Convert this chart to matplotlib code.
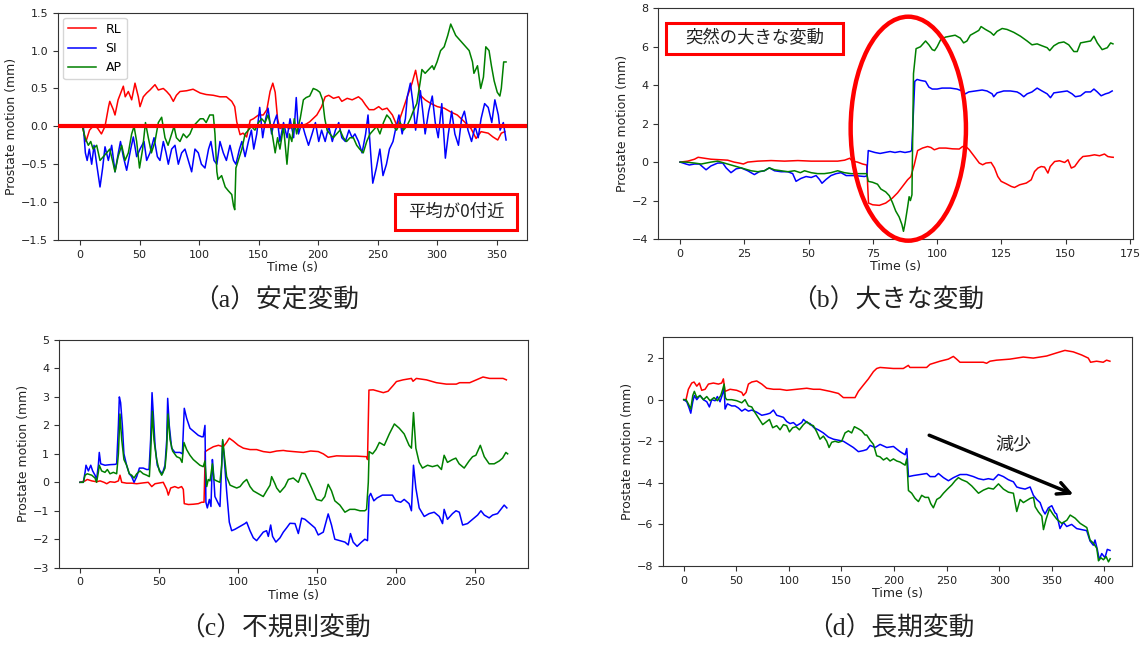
import matplotlib
matplotlib.use("Agg")
import matplotlib.pyplot as plt
from matplotlib.patches import Rectangle, Ellipse

plt.rcParams['font.family'] = ['DejaVu Sans', 'Noto Sans CJK JP']

# ---------------- (a) stable ----------------
a_t_rl = [2, 5, 8, 12, 15, 18, 21, 24, 25, 28, 29.4, 32, 36.4, 38, 40.6, 43.4, 46.2, 49, 50.4, 53.2, 56, 58.8, 63, 65.8, 70, 72.8, 75.6, 78.4, 81, 84, 89.6, 95, 101, 106, 112, 117.6, 123, 127.5, 130, 131.7, 134.5, 137, 140, 143, 145.7, 150, 154, 157, 159.7, 162, 164, 166, 168, 172, 176, 180, 185, 190, 193, 199, 203, 206, 209, 213, 217.4, 220, 224.5, 228.7, 234, 237, 240, 243, 247, 251, 254, 258, 262.5, 266.5, 270.7, 275, 279, 282, 284, 286, 290, 295, 300.3, 306, 311.5, 317, 323, 328.6, 332.8, 337, 343, 347, 351, 354, 357]
a_rl = [0.0, -0.2, -0.05, 0.02, -0.03, -0.1, 0.0, 0.26, 0.33, 0.22, 0.15, 0.35, 0.53, 0.39, 0.46, 0.35, 0.57, 0.39, 0.26, 0.39, 0.44, 0.48, 0.55, 0.48, 0.5, 0.46, 0.41, 0.33, 0.41, 0.46, 0.47, 0.49, 0.44, 0.42, 0.41, 0.39, 0.39, 0.33, 0.26, 0.06, -0.11, -0.09, -0.14, 0.08, 0.1, 0.15, 0.15, 0.22, 0.46, 0.57, 0.45, 0.1, -0.03, 0.0, -0.03, 0.02, 0.0, 0.03, 0.06, 0.15, 0.26, 0.39, 0.41, 0.37, 0.39, 0.33, 0.37, 0.35, 0.39, 0.35, 0.28, 0.22, 0.22, 0.26, 0.22, 0.24, 0.15, 0.0, 0.19, 0.39, 0.57, 0.74, 0.57, 0.41, 0.35, 0.3, 0.26, 0.24, 0.19, 0.15, 0.06, -0.03, -0.16, -0.07, -0.09, -0.14, -0.18, -0.09, -0.07]

a_t_si = [2.8, 4.5, 6, 7.8, 9.8, 11.8, 14, 16.8, 19, 21, 23.8, 26.6, 29.4, 32.2, 34, 36.4, 39.2, 42.6, 44.8, 47.6, 50.4, 53.8, 56, 58.8, 62.2, 65, 67.2, 70, 72.3, 74.2, 77, 79.8, 82.6, 85.4, 88.2, 91, 93.8, 96.6, 99.4, 102, 105, 108, 110, 112.6, 115, 117.6, 120.4, 123, 126, 129, 131, 134, 136, 138.7, 141.5, 144, 146, 148.5, 151, 153.5, 156, 158, 161, 163, 165.3, 168, 171, 174, 176.5, 179.5, 181.7, 183.6, 186.4, 189, 192, 195, 197.8, 200.6, 203, 206, 209, 212, 214.6, 217.4, 220, 223, 226, 228.7, 231, 234, 237, 240, 242, 244, 246, 249, 252, 254.6, 257.5, 260, 263, 265, 268, 270.7, 273.4, 275, 277.6, 279.8, 282, 284, 286, 288, 290, 293, 296, 298.5, 301, 304, 307, 309.5, 312.3, 315, 318, 320.6, 323, 326, 329, 332, 334.6, 337, 340, 343, 346, 348.6, 351.5, 353, 355.7, 358]
a_si = [0.0, -0.35, -0.45, -0.3, -0.5, -0.25, -0.5, -0.8, -0.55, -0.27, -0.45, -0.25, -0.6, -0.35, -0.2, -0.4, -0.58, -0.3, -0.14, -0.4, -0.3, -0.2, -0.45, -0.35, -0.15, -0.4, -0.45, -0.2, -0.35, -0.5, -0.3, -0.25, -0.5, -0.35, -0.3, -0.45, -0.6, -0.3, -0.35, -0.5, -0.55, -0.3, -0.2, -0.45, -0.5, -0.2, -0.35, -0.45, -0.25, -0.45, -0.5, -0.3, -0.2, -0.4, -0.2, -0.05, -0.3, -0.1, 0.25, -0.15, 0.1, 0.24, -0.1, 0.05, 0.15, -0.2, 0.05, -0.15, 0.1, -0.15, 0.38, -0.1, 0.05, -0.1, -0.25, -0.1, 0.05, -0.2, -0.05, -0.2, 0.0, -0.2, -0.05, 0.05, -0.15, -0.2, -0.05, -0.15, -0.1, -0.2, -0.35, -0.1, 0.15, -0.3, -0.75, -0.55, -0.3, -0.65, -0.5, -0.3, -0.2, -0.05, 0.15, -0.1, 0.1, 0.39, 0.57, 0.3, -0.05, 0.2, 0.47, 0.2, -0.1, 0.2, 0.4, 0.05, -0.15, 0.3, -0.42, -0.1, 0.2, -0.1, -0.25, 0.1, 0.2, -0.05, -0.2, 0.0, -0.15, 0.1, 0.3, 0.25, 0.05, 0.35, 0.15, -0.05, 0.05, -0.18]

a_t_ap = [2, 4.2, 7, 9, 11, 14, 16.8, 19.6, 22.4, 25, 28, 29.4, 32, 35, 37.8, 40.6, 43.4, 45.4, 47.6, 50, 52.6, 55, 57.4, 60, 63, 65.8, 68.6, 71.4, 74, 77, 79, 81, 84, 86.8, 89.6, 92.4, 95, 98, 101, 103.6, 106, 109, 112, 113.4, 115, 116, 119, 122, 124.6, 127.5, 129, 130, 131, 133, 136, 138.7, 141.5, 144, 147, 150, 152.7, 155.5, 158, 161, 164, 166, 168, 171, 173.9, 176, 178, 180, 182, 185, 187.7, 190, 193, 196, 199, 201.5, 203.8, 205.7, 207.6, 210, 212.8, 215.7, 218.5, 221.3, 224, 226.9, 229.7, 232.5, 235, 238, 240.9, 243.7, 246.5, 249.3, 252, 255, 257.8, 260.6, 263.4, 266, 269, 271.8, 274.5, 277.6, 280, 283, 286, 287.3, 290, 293, 296, 297.4, 300, 303, 306, 309, 311.5, 312.9, 315.7, 318.5, 321.3, 324, 327, 329.8, 331, 334, 336.7, 339, 341, 343.7, 345.7, 348, 350.6, 352.8, 354, 356, 358]
a_ap = [0.0, -0.15, -0.25, -0.2, -0.3, -0.25, -0.45, -0.4, -0.35, -0.3, -0.5, -0.6, -0.4, -0.25, -0.45, -0.35, -0.1, 0.0, -0.2, -0.55, -0.3, 0.05, -0.15, -0.35, -0.2, 0.05, 0.12, -0.15, -0.25, -0.1, 0.0, -0.15, -0.2, -0.1, -0.15, -0.1, 0.0, 0.05, 0.1, 0.1, 0.05, 0.15, 0.15, -0.1, -0.6, -0.7, -0.65, -0.8, -0.85, -0.9, -1.05, -1.1, -0.55, -0.45, -0.3, -0.1, -0.05, 0.0, -0.05, 0.05, 0.1, 0.05, 0.15, -0.05, -0.35, -0.15, -0.3, 0.0, -0.5, -0.1, -0.2, 0.1, -0.1, 0.1, 0.35, 0.38, 0.4, 0.5, 0.48, 0.45, 0.35, 0.1, -0.05, -0.1, -0.15, -0.1, -0.05, -0.15, -0.2, -0.15, -0.15, -0.25, -0.3, -0.35, -0.2, -0.1, -0.05, 0.0, -0.1, 0.05, 0.15, 0.1, 0.0, -0.05, 0.05, -0.05, 0.0, 0.1, 0.2, 0.3, 0.6, 0.75, 0.7, 0.75, 0.8, 0.75, 0.85, 1.0, 1.05, 1.2, 1.35, 1.3, 1.2, 1.15, 1.1, 1.05, 1.0, 0.85, 0.7, 0.8, 0.5, 0.65, 1.05, 1.0, 0.8, 0.6, 0.45, 0.4, 0.5, 0.85, 0.85]

# ---------------- (b) large sudden ----------------
b_t_rl = [0, 3, 5.6, 7, 9.5, 12, 16, 18.5, 21, 23, 24.6, 26.3, 30.2, 35.4, 40.6, 45.8, 51, 56, 61.3, 64, 66, 67, 69, 71, 72.6, 73.3, 74.9, 77.5, 80, 82.6, 84.6, 86.5, 88.5, 89.8, 91.1, 92.4, 94.3, 96.3, 97.6, 98.9, 100.8, 103.4, 106, 108.6, 109.9, 111.2, 112.5, 114.5, 116.4, 117.7, 119, 121, 122.3, 123.6, 124.9, 126.9, 128.9, 130.1, 132.1, 134.7, 136.6, 137.9, 139.2, 140.5, 141.8, 143.1, 144, 145.7, 147.6, 149.6, 150.9, 152.2, 153.5, 155.4, 156.7, 159.3, 161.2, 163.2, 165.1, 166.4, 167.7, 168.5]
b_rl = [0.0, 0.05, 0.15, 0.25, 0.2, 0.15, 0.12, 0.1, 0.0, -0.05, -0.1, 0.0, 0.05, 0.08, 0.05, 0.08, 0.05, 0.05, 0.05, 0.1, 0.2, 0.05, 0.0, -0.1, -0.15, -2.13, -2.22, -2.25, -2.13, -1.87, -1.6, -1.27, -0.92, -0.75, -0.14, 0.6, 0.73, 0.81, 0.76, 0.64, 0.73, 0.73, 0.69, 0.68, 0.81, 0.81, 0.64, 0.29, -0.05, -0.14, -0.05, -0.02, -0.3, -0.75, -1.0, -1.13, -1.27, -1.32, -1.18, -1.09, -0.92, -0.49, -0.31, -0.23, -0.26, -0.57, -0.23, 0.03, 0.07, -0.02, 0.12, -0.31, -0.23, 0.12, 0.29, 0.33, 0.38, 0.33, 0.42, 0.29, 0.26, 0.25]

b_t_si = [0, 2.3, 3.6, 5.6, 7.5, 10.1, 12, 14.6, 16.6, 17.9, 19.8, 21.8, 23.7, 26.3, 28.9, 30.8, 32.8, 34.7, 36.7, 39.3, 41.9, 43.8, 45.1, 47, 49, 51, 52.9, 54.2, 55.2, 56.8, 58.7, 60.7, 62.6, 64.6, 67.8, 71.7, 72.6, 73.2, 75.8, 77.8, 79.7, 81.7, 83.6, 85.6, 87.5, 89.5, 90.1, 91.3, 92.2, 93.5, 95.5, 96.8, 98.1, 100, 101.9, 105.1, 107.7, 109.7, 111, 112.3, 114.9, 117.5, 119.4, 121.4, 122, 123.3, 125.9, 128.5, 131.1, 132.4, 133.7, 135, 136.9, 138.9, 140.8, 142.8, 144.1, 145.4, 148, 150.6, 152.5, 153.8, 155.8, 157.7, 159.7, 161, 162.3, 163.8, 165.5, 166.8, 168.1]
b_si = [0.0, -0.1, -0.15, -0.1, -0.1, -0.4, -0.2, -0.05, -0.05, -0.3, -0.55, -0.35, -0.3, -0.45, -0.65, -0.5, -0.45, -0.3, -0.45, -0.5, -0.5, -0.6, -1.0, -0.85, -0.75, -0.8, -0.7, -0.9, -1.1, -0.9, -0.7, -0.6, -0.55, -0.7, -0.7, -0.75, -0.72, 0.6, 0.5, 0.45, 0.5, 0.55, 0.5, 0.55, 0.5, 0.55, 0.6, 4.2, 4.3, 4.25, 4.2, 3.9, 3.8, 3.8, 3.85, 3.85, 3.8, 3.7, 3.55, 3.65, 3.7, 3.75, 3.7, 3.55, 3.4, 3.6, 3.7, 3.7, 3.65, 3.55, 3.4, 3.55, 3.65, 3.85, 3.7, 3.55, 3.35, 3.6, 3.65, 3.7, 3.55, 3.4, 3.45, 3.65, 3.65, 3.8, 3.65, 3.45, 3.55, 3.6, 3.7]

b_t_ap = [0, 2.3, 5.6, 8.2, 12, 14.6, 17.2, 19.8, 22.4, 25, 27.6, 30.2, 32.8, 34.7, 36.7, 39.3, 41.9, 44.5, 46.8, 48.4, 51, 53.5, 56.1, 58.7, 61.3, 63.9, 66.5, 69, 72.6, 73.2, 74.9, 76.8, 78.1, 80, 81.4, 82.6, 83.9, 85.2, 86.3, 86.9, 87.5, 88.5, 89.1, 89.6, 90.2, 90.8, 91.8, 93.5, 95.5, 96.8, 98.1, 99, 100, 101.3, 103.2, 105.1, 107, 109, 110.3, 111.6, 112.9, 114.9, 116.2, 117.1, 118.8, 120.8, 122, 123.3, 125.3, 127.2, 129.8, 132.4, 135, 136.9, 138.9, 140.8, 142.8, 143.8, 145.4, 147.3, 149.3, 151.2, 153.2, 154.5, 155.8, 157.7, 159.7, 161, 162.3, 164.2, 166.2, 167.5, 168.4]
b_ap = [0.0, 0.0, -0.05, -0.1, 0.0, 0.05, -0.05, -0.15, -0.25, -0.35, -0.45, -0.5, -0.45, -0.3, -0.4, -0.45, -0.5, -0.45, -0.55, -0.45, -0.55, -0.6, -0.6, -0.55, -0.45, -0.55, -0.6, -0.6, -0.6, -1.0, -1.05, -1.15, -1.4, -1.55, -1.75, -2.1, -2.55, -2.85, -3.25, -3.6, -3.2, -2.35, -1.8, -2.0, -1.7, 4.6, 5.9, 6.0, 6.3, 6.1, 5.85, 5.8, 6.0, 6.35, 6.5, 6.55, 6.6, 6.45, 6.2, 6.3, 6.6, 6.75, 6.85, 7.05, 6.9, 6.75, 6.6, 6.8, 6.95, 6.9, 6.75, 6.55, 6.3, 6.1, 6.15, 6.05, 5.95, 5.8, 6.05, 6.2, 6.25, 6.1, 5.75, 5.75, 6.2, 6.25, 6.3, 6.55, 6.2, 5.85, 5.95, 6.2, 6.15]

# ---------------- (c) irregular ----------------
c_t_rl = [0, 3.2, 4.6, 7.4, 10.5, 12.7, 15.2, 16.9, 19, 22, 24.3, 25.3, 26.4, 29.5, 32.7, 35.9, 40, 43.2, 45.4, 47.5, 50.6, 52.7, 54.9, 55.9, 57.4, 60, 62.2, 64.3, 65.4, 66, 68.6, 71.7, 74.9, 77, 78.5, 79.3, 81.2, 84.4, 87.6, 90.7, 92.8, 94.5, 97, 100.2, 103.4, 107.6, 111.8, 116, 120.3, 124.5, 128.7, 131, 135, 141.4, 146, 150.8, 154, 157.1, 162.4, 168.7, 175, 181.4, 182, 182.9, 185.6, 188.8, 192, 195, 198.2, 200.3, 204.5, 209.8, 210.8, 212.9, 219.3, 225.6, 231.9, 238.2, 240.3, 246.7, 250.9, 255.1, 259.3, 263.6, 267.8, 269.9]
c_rl = [0.0, 0.05, 0.1, 0.05, 0.02, 0.05, 0.0, -0.05, 0.02, 0.0, 0.05, 0.25, 0.0, -0.03, -0.03, -0.05, -0.02, 0.0, -0.15, -0.05, -0.02, 0.0, -0.25, -0.45, -0.2, -0.15, -0.2, -0.15, -0.25, -0.75, -0.78, -0.77, -0.75, -0.7, -0.7, 1.08, 1.15, 1.25, 1.3, 1.25, 1.4, 1.55, 1.45, 1.3, 1.2, 1.15, 1.15, 1.08, 1.05, 1.1, 1.12, 1.1, 1.08, 1.05, 1.1, 1.08, 1.0, 0.88, 0.93, 0.92, 0.92, 0.9, 0.8, 3.24, 3.25, 3.2, 3.15, 3.2, 3.4, 3.54, 3.6, 3.65, 3.55, 3.65, 3.6, 3.5, 3.45, 3.45, 3.5, 3.5, 3.6, 3.7, 3.65, 3.65, 3.65, 3.6]

c_t_si = [0, 2.1, 3.2, 3.8, 5.3, 6.8, 8, 9.5, 10.5, 11.6, 12.2, 13.1, 15.8, 19, 22.2, 23.2, 24.3, 24.9, 25.7, 26.8, 27.8, 29.5, 31.2, 32.7, 34.2, 35.9, 37.6, 40, 42.2, 43.7, 44.7, 45.6, 46.4, 47.5, 48.9, 50.6, 52.1, 53.8, 54.9, 55.5, 56.5, 58, 60.1, 63.3, 64.8, 65.4, 66, 67.5, 69.6, 71.7, 74.9, 77, 78, 79.1, 79.7, 80.6, 81.9, 82.9, 83.8, 84.4, 85.4, 87.6, 88.6, 89.7, 90.3, 91.1, 92.8, 94.5, 96, 98.1, 101.3, 104.4, 105.5, 107.6, 109.7, 111.8, 113.9, 116, 118.1, 119.2, 120.7, 121.9, 124, 126.6, 128.7, 130.8, 132.9, 136.1, 138.2, 140.3, 142.4, 144.5, 146.6, 148.7, 150.8, 154, 155.7, 157.1, 159.2, 161.3, 164.5, 167.7, 169.8, 171.2, 172.9, 175.4, 178.2, 180.3, 182, 183, 184, 186, 188, 191.4, 197.8, 199.9, 203, 205.2, 208.3, 209.8, 211.1, 212.6, 214.7, 217.9, 221, 224.2, 227.4, 229.5, 230.5, 232.6, 235.8, 238, 240.1, 242.2, 245.3, 248.5, 251.7, 253.8, 255.9, 259, 261.2, 264.3, 266.4, 268.5, 270.2]
c_si = [0.0, 0.0, 0.35, 0.6, 0.4, 0.6, 0.4, 0.25, 0.1, 0.6, 1.05, 0.65, 0.6, 0.62, 0.63, 0.65, 2.0, 3.0, 2.8, 2.0, 1.0, 0.6, 0.3, 0.2, 0.0, 0.2, 0.5, 0.5, 0.45, 0.45, 1.5, 3.15, 2.4, 1.3, 0.6, 0.4, 0.3, 0.6, 1.5, 2.95, 2.0, 1.2, 1.05, 1.05, 1.0, 1.8, 2.6, 2.25, 1.9, 1.8, 1.65, 1.6, 1.6, 2.0, -0.7, -0.9, -0.6, -0.85, 0.8, 0.4, -0.5, -0.75, -0.85, 0.6, 1.45, 1.0, -0.3, -1.4, -1.7, -1.65, -1.55, -1.45, -1.4, -1.7, -1.95, -2.05, -1.9, -1.75, -1.7, -1.9, -1.5, -1.9, -2.1, -1.95, -1.75, -1.6, -1.44, -1.45, -1.8, -1.26, -1.3, -1.4, -1.5, -1.6, -1.85, -1.75, -1.4, -1.11, -1.5, -2.0, -2.05, -2.1, -2.2, -1.8, -2.1, -2.25, -2.1, -2.0, -2.05, -0.5, -0.39, -0.65, -0.55, -0.45, -0.45, -0.65, -0.7, -0.6, -0.75, -1.0, 0.6, -0.2, -0.9, -1.2, -1.1, -1.05, -1.2, -1.45, -0.95, -1.3, -1.1, -1.0, -1.05, -1.5, -1.45, -1.3, -1.15, -1.0, -1.15, -1.25, -1.15, -1.1, -0.95, -0.8, -0.9]

c_t_ap = [0, 2.1, 3.2, 4.6, 7.4, 9.5, 10.5, 11.6, 12.2, 13.7, 15.8, 17.3, 19, 21.1, 23.2, 24.3, 25.3, 26.4, 27.8, 29.5, 31.2, 32.7, 34.2, 35.9, 38, 40, 42.2, 43.9, 44.7, 45.8, 46.8, 48.5, 50.2, 51.7, 53.8, 54.9, 55.7, 57, 58.6, 61.2, 63.3, 64.6, 65.8, 67.5, 69.6, 71.7, 73.8, 75.9, 78, 79.1, 80.2, 81.2, 82.3, 83.8, 84.8, 86.5, 88.6, 89.7, 90.3, 91.8, 92.8, 95, 97, 99.2, 101.3, 103.4, 105.5, 107.6, 109.7, 112.9, 116, 118.1, 120.3, 121.3, 123.4, 124.5, 126.6, 129.7, 131.9, 135, 138.2, 140.3, 142.4, 144.5, 146.6, 149.7, 152.9, 155, 157.1, 159.2, 161.3, 164.5, 167.7, 170.8, 174, 177.2, 180.3, 181.4, 182.5, 183, 185.2, 187.3, 189.5, 192.6, 195.8, 199, 202.1, 205.2, 208.3, 209.8, 211.1, 212.6, 214.7, 216.8, 220, 223.1, 226.3, 228.8, 230.5, 232.6, 235.8, 237.9, 240, 243.2, 246.3, 248.5, 250.6, 253.4, 255.9, 259, 262.2, 265.4, 267.5, 269.6, 270.7]
c_ap = [0.0, 0.0, 0.25, 0.3, 0.25, 0.15, 0.0, 0.35, 0.6, 0.4, 0.35, 0.45, 0.3, 0.35, 0.3, 1.0, 2.4, 1.5, 0.8, 0.6, 0.3, 0.25, 0.15, 0.3, 0.4, 0.3, 0.25, 0.2, 1.0, 2.5, 1.5, 0.8, 0.4, 0.25, 0.5, 1.2, 2.4, 1.5, 1.1, 0.9, 0.85, 0.7, 1.4, 1.15, 0.95, 0.8, 0.7, 0.6, 0.55, 0.75, -0.15, 0.1, 0.05, 0.65, 0.1, 0.05, 0.0, 0.6, 1.5, 0.7, 0.2, -0.1, -0.15, -0.2, -0.15, 0.0, 0.1, -0.15, -0.3, -0.4, -0.5, -0.3, -0.1, 0.2, -0.05, -0.2, -0.35, -0.15, 0.1, 0.15, 0.0, 0.32, 0.3, 0.05, -0.2, -0.6, -0.65, -0.5, -0.07, -0.3, -0.65, -0.8, -1.05, -0.95, -0.95, -1.0, -1.0, -0.95, 0.0, 1.08, 1.0, 1.15, 1.4, 1.3, 1.7, 2.05, 1.9, 1.7, 1.3, 1.2, 2.45, 1.2, 0.7, 0.5, 0.6, 0.55, 0.6, 0.45, 0.95, 0.7, 0.8, 0.85, 0.65, 0.5, 0.75, 0.9, 0.95, 1.3, 0.9, 0.65, 0.65, 0.75, 0.85, 1.05, 1.0]

# ---------------- (d) long-term ----------------
d_t_rl = [0, 2.2, 4.4, 7.6, 9.8, 12.4, 14.9, 17.1, 20.3, 23.5, 28.2, 33, 36.1, 37.7, 39.3, 44.1, 50.4, 55.2, 56.7, 59.3, 61.5, 64.7, 69.4, 74.2, 78.9, 85.3, 91.6, 97.9, 107.4, 117, 123.3, 129.6, 139.1, 147.1, 151.8, 158.2, 162.9, 166.1, 170.8, 175.6, 180.4, 183.5, 186.7, 199.3, 208.8, 213.6, 215.1, 231, 234.2, 243.7, 251.6, 256.4, 259.5, 262.7, 275.4, 284.9, 288, 291.2, 297.5, 310.2, 322.9, 332.4, 345.1, 354.6, 362.5, 370.4, 378.4, 384.7, 386.9, 392.6, 398.9, 402.1, 405.3]
d_rl = [0.0, 0.0, 0.5, 0.8, 0.85, 0.65, 0.8, 0.45, 0.5, 0.75, 0.8, 0.75, 0.8, 1.0, 0.4, 0.5, 0.45, 0.35, 0.2, 0.35, 0.75, 0.85, 0.9, 0.75, 0.55, 0.5, 0.5, 0.45, 0.5, 0.55, 0.5, 0.5, 0.4, 0.3, 0.1, 0.1, 0.1, 0.4, 0.7, 1.0, 1.35, 1.5, 1.55, 1.5, 1.5, 1.65, 1.55, 1.55, 1.7, 1.85, 1.95, 2.08, 1.95, 1.8, 1.8, 1.8, 1.75, 1.85, 1.9, 1.95, 2.05, 2.0, 2.1, 2.25, 2.37, 2.3, 2.15, 2.0, 1.8, 1.85, 1.8, 1.9, 1.85]

d_t_si = [0, 2.9, 5.1, 6.7, 8.6, 10.1, 12.4, 15.5, 18.7, 21.9, 24.4, 26.6, 29.8, 32, 34.5, 37.1, 38.4, 39.3, 41.5, 45.6, 48.8, 52, 55.2, 58.3, 61.5, 64.7, 69.4, 74.2, 78.9, 82.1, 85.3, 88.4, 91.6, 94.8, 97.9, 101.1, 104.3, 107.4, 112.2, 113.8, 117, 120.1, 123.9, 128, 132.8, 137.6, 142.3, 147.1, 151.8, 156.6, 161.3, 166.1, 170.8, 174, 177.2, 182, 186.7, 193.1, 199.4, 205.7, 210.5, 212.1, 213.7, 218.4, 224.8, 231.1, 234.3, 239, 242.2, 247, 251.7, 256.5, 262.8, 269.1, 275.5, 280.2, 285, 289.7, 294.5, 299.2, 304, 308.7, 313.5, 316.7, 319.8, 324.6, 329.4, 332.5, 335.7, 338.9, 341.4, 343.6, 346.8, 350, 353.2, 354.6, 357.8, 361, 364.2, 368.9, 373.7, 378.4, 383.2, 386.4, 389.5, 391.1, 393.3, 395.2, 397.5, 400.6, 402.8, 405.4]
d_si = [0.0, -0.1, -0.4, -0.65, -0.1, 0.2, 0.0, 0.2, 0.0, -0.1, -0.35, 0.0, -0.05, 0.15, -0.1, 0.3, 0.6, -0.45, -0.2, -0.3, -0.3, -0.4, -0.55, -0.45, -0.55, -0.5, -0.6, -0.75, -0.7, -0.65, -0.5, -0.75, -0.8, -0.85, -1.05, -1.15, -1.1, -1.25, -1.1, -0.95, -1.1, -1.15, -1.35, -1.45, -1.6, -1.8, -1.9, -1.95, -2.0, -2.15, -2.3, -2.5, -2.45, -2.4, -2.2, -2.3, -2.15, -2.3, -2.25, -2.5, -2.65, -2.35, -3.7, -3.65, -3.6, -3.55, -3.7, -3.7, -3.55, -3.75, -3.9, -3.75, -3.6, -3.6, -3.7, -3.8, -3.85, -3.8, -3.85, -3.6, -3.7, -3.85, -3.95, -4.2, -4.25, -4.3, -4.2, -4.6, -4.8, -4.95, -5.3, -5.5, -5.2, -5.1, -5.45, -5.5, -6.2, -5.9, -6.1, -6.0, -6.2, -6.25, -6.3, -6.8, -7.0, -6.75, -7.2, -7.7, -7.4, -7.6, -7.2, -7.25]

d_t_ap = [0, 2.2, 4.4, 6.7, 8.6, 10.1, 12.4, 15.5, 18.7, 21.9, 25, 28.8, 32, 35.2, 37.1, 38.4, 39.6, 40.9, 45.6, 50.4, 55.2, 58.3, 61.5, 64.7, 66.9, 69.4, 72.6, 75.1, 78.9, 81.5, 84.6, 88.4, 91.6, 94.8, 97.9, 100.5, 103.6, 106.8, 110, 113.8, 117, 120.1, 123.3, 126.5, 129.6, 132.8, 136, 138.2, 140.7, 143.9, 147.1, 150.2, 153.4, 156.6, 159.7, 162.3, 166.1, 169.3, 172.4, 174, 177.2, 180.4, 183.5, 186.7, 189.9, 193.1, 196.2, 199.4, 202.6, 205.7, 210.5, 212.1, 213.7, 216.8, 220, 223.2, 226.3, 229.5, 232.7, 234.9, 237.4, 240.6, 243.8, 247, 250.8, 254.9, 258.1, 261.2, 264.4, 269.2, 273.9, 280.3, 285, 289.8, 294.5, 299.3, 304, 308.8, 313.5, 316.7, 319.9, 323, 326.2, 329.4, 332.6, 334.2, 337.3, 340.5, 342.1, 344.6, 347.8, 351, 354.8, 359.5, 364.3, 367.5, 372.2, 377, 383.3, 386.4, 389.6, 392.8, 394.4, 396.6, 399.1, 401.7, 403.9, 405.5]
d_ap = [0.0, 0.0, -0.2, -0.45, 0.2, 0.4, 0.1, 0.2, 0.0, 0.15, -0.05, 0.1, -0.05, 0.2, 0.5, 0.75, 0.1, 0.0, 0.0, -0.05, -0.15, 0.0, -0.3, -0.35, -0.55, -0.75, -1.0, -1.2, -1.05, -0.95, -1.35, -1.25, -1.45, -1.2, -1.25, -1.55, -1.35, -1.3, -1.45, -1.2, -1.05, -1.2, -1.25, -1.55, -1.9, -1.75, -2.0, -2.3, -2.05, -2.0, -2.05, -2.0, -1.6, -1.5, -1.6, -1.3, -1.4, -1.5, -1.7, -1.7, -1.95, -2.15, -2.7, -2.75, -2.9, -2.8, -2.95, -2.85, -2.95, -3.0, -3.15, -2.85, -4.37, -4.5, -4.75, -4.9, -4.6, -4.7, -4.7, -5.0, -5.2, -4.8, -4.7, -4.5, -4.3, -4.1, -3.9, -3.75, -3.85, -3.95, -4.15, -4.5, -4.35, -4.25, -4.3, -4.05, -4.3, -4.45, -4.5, -5.38, -4.8, -4.95, -4.85, -4.75, -4.7, -5.15, -5.4, -5.6, -6.25, -5.75, -5.25, -5.5, -5.75, -5.95, -5.8, -5.55, -5.7, -5.95, -6.15, -6.75, -6.9, -7.15, -7.75, -7.6, -7.7, -7.55, -7.8, -7.65]

series_labels = ['RL', 'SI', 'AP']
series_colors = ['red', 'blue', 'green']
captions = ['（a）安定変動', '（b）大きな変動', '（c）不規則変動', '（d）長期変動']

W, H = 1144, 646
fig = plt.figure(figsize=(W / 100, H / 100), dpi=100)


def axes_px(l, r, t, b):
    return fig.add_axes([l / W, 1 - b / H, (r - l) / W, (b - t) / H])


panels = [
    dict(box=(58, 527, 12.7, 240), xlim=(-18.5, 375.6), ylim=(-1.5, 1.5),
         xt=range(0, 351, 50), yt=[-1.5, -1.0, -0.5, 0.0, 0.5, 1.0, 1.5],
         data=[(a_t_rl, a_rl), (a_t_si, a_si), (a_t_ap, a_ap)]),
    dict(box=(658, 1133, 8.3, 239), xlim=(-8.6, 176.2), ylim=(-4, 8),
         xt=range(0, 176, 25), yt=range(-4, 9, 2),
         data=[(b_t_rl, b_rl), (b_t_si, b_si), (b_t_ap, b_ap)]),
    dict(box=(59, 527.7, 340, 567.7), xlim=(-13.3, 283.4), ylim=(-3, 5),
         xt=range(0, 251, 50), yt=range(-3, 6, 1),
         data=[(c_t_rl, c_rl), (c_t_si, c_si), (c_t_ap, c_ap)]),
    dict(box=(662.7, 1131.7, 337.3, 566), xlim=(-20, 426), ylim=(-8, 3),
         xt=range(0, 401, 50), yt=range(-8, 3, 2),
         data=[(d_t_rl, d_rl), (d_t_si, d_si), (d_t_ap, d_ap)]),
]

axes = []
for p in panels:
    ax = axes_px(*p['box'])
    for (t, v), lab, col in zip(p['data'], series_labels, series_colors):
        ax.plot(t, v, color=col, lw=1.1, label=lab)
    ax.set_xlim(*p['xlim'])
    ax.set_ylim(*p['ylim'])
    ax.set_xticks(list(p['xt']))
    ax.set_yticks(list(p['yt']))
    ax.tick_params(labelsize=8, length=3.5, color='#333333', labelcolor='#222222')
    ax.set_xlabel('Time (s)', fontsize=9, labelpad=1, color='#222222')
    ax.set_ylabel('Prostate motion (mm)', fontsize=9, labelpad=2, color='#222222')
    for s in ax.spines.values():
        s.set_color('#333333')
    axes.append(ax)

ax_a, ax_b, ax_c, ax_d = axes

# (a) extras
ax_a.axhline(0, color='red', lw=3, zorder=5)
ax_a.legend(loc='upper left', fontsize=9, handlelength=2.2, borderaxespad=0.4)
fig.patches.append(Rectangle((395 / W, 1 - 230 / H), 122 / W, 36 / H, transform=fig.transFigure,
                             fill=False, edgecolor='red', lw=2.2))
fig.text(456 / W, 1 - 212 / H, '平均が0付近', family=['Noto Sans CJK JP'], fontsize=12.5,
         ha='center', va='center', color='#222222')

# (b) extras
fig.patches.append(Rectangle((666 / W, 1 - 54 / H), 176.7 / W, 31.3 / H, transform=fig.transFigure,
                             fill=False, edgecolor='red', lw=2.2))
fig.text(754.3 / W, 1 - 38.3 / H, '突然の大きな変動', family=['Noto Sans CJK JP'], fontsize=12.5,
         ha='center', va='center', color='#222222')
fig.patches.append(Ellipse((908.3 / W, 1 - 128.7 / H), 115.3 / W, 224 / H, transform=fig.transFigure,
                           fill=False, edgecolor='red', lw=3.2))

# (d) extras
ax_d.annotate('', xy=(373, -4.61), xytext=(231, -1.66),
              arrowprops=dict(arrowstyle='->', color='black', lw=2.5, mutation_scale=22))
ax_d.text(313, -2.15, '減少', family=['Noto Sans CJK JP'], fontsize=13, ha='center', va='center',
          color='#222222')

# captions
cap_pos = [(276, 300), (888, 300), (275, 628), (891, 628)]
for (cx, cy), txt in zip(cap_pos, captions):
    fig.text(cx / W, 1 - cy / H, txt, family=['Liberation Serif', 'Noto Sans CJK JP'], fontsize=18.5,
             ha='center', va='center', color='#222222')

fig.savefig('out.png', dpi=100)
